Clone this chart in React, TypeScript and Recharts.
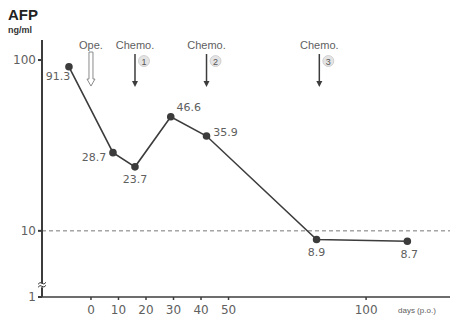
import { LineChart, Line, XAxis, YAxis, ReferenceLine, ReferenceDot, LabelList } from "recharts";

// days after operation and AFP level (ng/ml)
const days = [-8, 8, 16, 29, 42, 82, 115];
const afp = [91.3, 28.7, 23.7, 46.6, 35.9, 8.9, 8.7];

const xTicks = [0, 10, 20, 30, 40, 50, 100];
// broken axis: the bottom of the axis stands for "1"
const AXIS_FLOOR = 4.1;
const yTicks = [AXIS_FLOOR, 10, 100];

const eventDays = [0, 16, 42, 83];
const eventLabels = ["Ope.", "Chemo.", "Chemo.", "Chemo."];
const eventNums = ["", "1", "2", "3"];

const data = days.map((d, i) => ({ day: d, afp: afp[i] }));

// where each value label sits relative to its point
const labelOffsets = [
  [-11, 10],
  [-19, 5],
  [0, 13],
  [18, -9],
  [19, -4],
  [0, 13],
  [2, 13],
];

const ink = "#3c3c3c";
const soft = "#606060";
const font = "'Liberation Sans', Arial, sans-serif";
const numFont = "'DejaVu Sans', sans-serif";

const PointLabel = (props: any) => {
  const { x, y, index, value } = props;
  const [dx, dy] = labelOffsets[index] ?? [0, 12];
  return (
    <text x={x + dx} y={y + dy} textAnchor="middle" dominantBaseline="central" fontSize={11} fill={soft} fontFamily={numFont}>
      {value}
    </text>
  );
};

const EventMark = (i: number) => (props: any) => {
  const { cx, cy } = props;
  const label = eventLabels[i];
  const num = eventNums[i];
  return (
    <g>
      <text x={cx} y={cy - 15} textAnchor="middle" dominantBaseline="central" fontSize={11} fill={soft} fontFamily={font}>
        {label}
      </text>
      {i === 0 ? (
        <path
          d={`M${cx - 2},${cy - 8} L${cx + 2},${cy - 8} L${cx + 2},${cy + 19} L${cx + 4},${cy + 19} L${cx},${cy + 26} L${cx - 4},${cy + 19} L${cx - 2},${cy + 19} Z`}
          fill="#fff"
          stroke="#8a8a8a"
          strokeWidth={1}
        />
      ) : (
        <g>
          <line x1={cx} y1={cy - 6} x2={cx} y2={cy + 22} stroke={ink} strokeWidth={1.5} />
          <path d={`M${cx - 3},${cy + 21} L${cx + 3},${cy + 21} L${cx},${cy + 27} Z`} fill={ink} />
          <circle cx={cx + 9} cy={cy + 1} r={5.5} fill="#e4e4e4" stroke="#c8c8c8" strokeWidth={0.8} />
          <text x={cx + 9} y={cy + 1.5} textAnchor="middle" dominantBaseline="central" fontSize={9} fill="#555" fontFamily={font}>
            {num}
          </text>
        </g>
      )}
    </g>
  );
};

const BreakMark = (props: any) => {
  const { cx, cy } = props;
  return (
    <g>
      <rect x={cx - 4} y={cy - 2} width={8} height={4} fill="#fff" />
      <path d={`M${cx - 4},${cy - 1} Q${cx - 2},${cy - 4} ${cx},${cy - 2} T${cx + 4},${cy - 3}`} stroke={ink} fill="none" strokeWidth={1} />
      <path d={`M${cx - 4},${cy + 2} Q${cx - 2},${cy - 1} ${cx},${cy + 1} T${cx + 4},${cy}`} stroke={ink} fill="none" strokeWidth={1} />
    </g>
  );
};

export default function App() {
  return (
    <div style={{ position: "absolute", left: 0, top: 0, width: 461, height: 320, background: "#fff", fontFamily: font }}>
      <div style={{ position: "absolute", left: 8, top: 6, fontSize: 15, fontWeight: 700, color: "#222" }}>AFP</div>
      <div style={{ position: "absolute", left: 8, top: 25, fontSize: 9, fontWeight: 700, color: "#333" }}>ng/ml</div>
      <div style={{ position: "absolute", left: 398, top: 306, fontSize: 8, color: soft }}>days (p.o.)</div>
      <LineChart width={461} height={320} data={data} margin={{ top: 40, right: 11, bottom: 0, left: 0 }}>
        <XAxis
          dataKey="day"
          type="number"
          domain={[-17.8, 130.5]}
          ticks={xTicks}
          allowDataOverflow
          stroke={ink}
          strokeWidth={1.5}
          tickSize={3}
          tickMargin={5}
          height={23}
          tick={{ fontSize: 12, fill: soft, fontFamily: numFont }}
        />
        <YAxis
          type="number"
          scale="log"
          domain={[AXIS_FLOOR, 131]}
          ticks={yTicks}
          allowDataOverflow
          width={42}
          stroke={ink}
          strokeWidth={2}
          tickSize={4}
          tickMargin={2}
          tickFormatter={(v: number) => (v === AXIS_FLOOR ? "1" : String(v))}
          tick={{ fontSize: 12, fill: soft, fontFamily: numFont }}
        />
        <ReferenceLine y={10} stroke="#777" strokeDasharray="4 3" strokeWidth={1} />
        {eventDays.map((d, i) => (
          <ReferenceDot key={i} x={d} y={100} ifOverflow="visible" shape={EventMark(i)} />
        ))}
        <ReferenceDot x={-17.8} y={4.8} ifOverflow="visible" shape={BreakMark} />
        <Line
          type="linear"
          dataKey="afp"
          stroke={ink}
          strokeWidth={1.6}
          dot={{ r: 3, fill: ink, stroke: ink }}
          isAnimationActive={false}
        >
          <LabelList dataKey="afp" content={PointLabel} />
        </Line>
      </LineChart>
    </div>
  );
}
